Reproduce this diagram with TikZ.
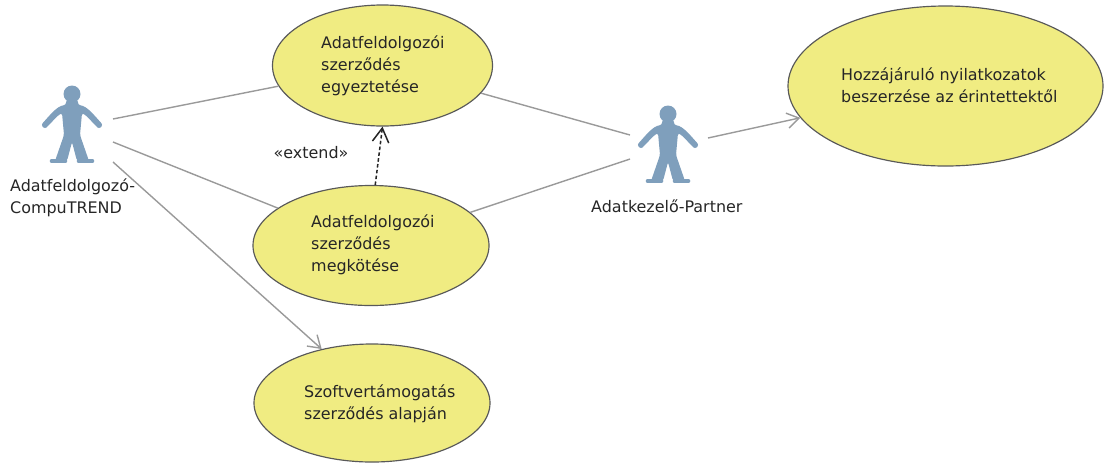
\documentclass[tikz,border=0pt]{standalone}
\usepackage{fontspec}
\setmainfont{DejaVu Sans}
\usetikzlibrary{arrows.meta,shapes.geometric}
\definecolor{usecasefill}{HTML}{F0EC82}
\definecolor{actorblue}{HTML}{7F9FBC}
\definecolor{linegray}{HTML}{9A9A9A}
\tikzset{
  usecase/.style={ellipse,draw=black!65,line width=1pt,fill=usecasefill,inner sep=0pt},
  label/.style={text=black!85,font=\fontsize{13.6}{18.8}\selectfont,inner sep=0pt,align=left},
  assoc/.style={draw=linegray,line width=1.2pt},
  navassoc/.style={assoc,-{Straight Barb[length=10pt,width=13pt]}},
  extendarrow/.style={draw=black!85,densely dashed,line width=1.3pt,-{Straight Barb[length=12pt,width=14pt]}},
}
\newcommand{\umlactor}[1]{%
  \begin{scope}[shift={#1},x=0.03cm,y=-0.03cm]
    \fill[actorblue] (0,-36) circle (8.5);
    \fill[actorblue,rounded corners=2pt] (-6,-30) -- (6,-30) -- (6,-25)
      .. controls (15,-24) and (22,-15) .. (31,-5) -- (27,-1)
      .. controls (20,-8) and (15,-14) .. (10,-17) -- (8,5) -- (17,31) -- (5,31) -- (0,12)
      -- (-5,31) -- (-17,31) -- (-8,5) -- (-10,-17)
      .. controls (-15,-14) and (-20,-8) .. (-27,-1) -- (-31,-5)
      .. controls (-22,-15) and (-15,-24) .. (-6,-25) -- cycle;
    \draw[actorblue,line width=4pt,line cap=round] (-20,31) -- (-7,31) (7,31) -- (20,31);
  \end{scope}}
\begin{document}
\begin{tikzpicture}[x=0.03cm,y=-0.03cm]
  \useasboundingbox (0,0) rectangle (1104,463);
  % use cases
  \node[usecase,minimum width=6.6cm,minimum height=3.63cm] (egyeztetes) at (382.5,65.5) {};
  \node[usecase,minimum width=7.08cm,minimum height=3.6cm] (megkotes) at (371,245.5) {};
  \node[usecase,minimum width=7.08cm,minimum height=3.54cm] (tamogatas) at (372,403) {};
  \node[usecase,minimum width=9.45cm,minimum height=4.8cm] (hozzajarulo) at (945.5,86) {};
  \node[label,anchor=west] (egyeztetesT) at (321,66) {Adatfeldolgozói\\szerződés\\egyeztetése};
  \node[label,anchor=west] (megkotesT) at (311,245) {Adatfeldolgozói\\szerződés\\megkötése};
  \node[label,anchor=west] (tamogatasT) at (304,404) {Szoftvertámogatás\\szerződés alapján};
  \node[label,anchor=west] (hozzajaruloT) at (841,85) {Hozzájáruló nyilatkozatok\\beszerzése az érintettektől};
  % actors
  \umlactor{(72,130)}
  \umlactor{(668,150)}
  \node[label,anchor=west] (compu) at (10,198) {Adatfeldolgozó-\\CompuTREND};
  \node[label,anchor=west] (partner) at (591,206) {Adatkezelő-Partner};
  \coordinate (compuA) at (113,119);
  \coordinate (compuB) at (113,142);
  \coordinate (compuC) at (113,162);
  \coordinate (partnerA) at (630,135);
  \coordinate (partnerB) at (630,159);
  \coordinate (partnerC) at (708,138);
  % connectors
  \draw[assoc] (compuA) -- (egyeztetes);
  \draw[assoc] (compuB) -- (megkotes);
  \draw[navassoc] (compuC) -- (tamogatas.133);
  \draw[assoc] (partnerA) -- (egyeztetes);
  \draw[assoc] (partnerB) -- (megkotes);
  \draw[navassoc] (partnerC) -- (hozzajarulo);
  \draw[extendarrow] (megkotes.86) -- (egyeztetes.south);
  \node[label] (extendT) at (311,153) {«extend»};
\end{tikzpicture}
\end{document}
